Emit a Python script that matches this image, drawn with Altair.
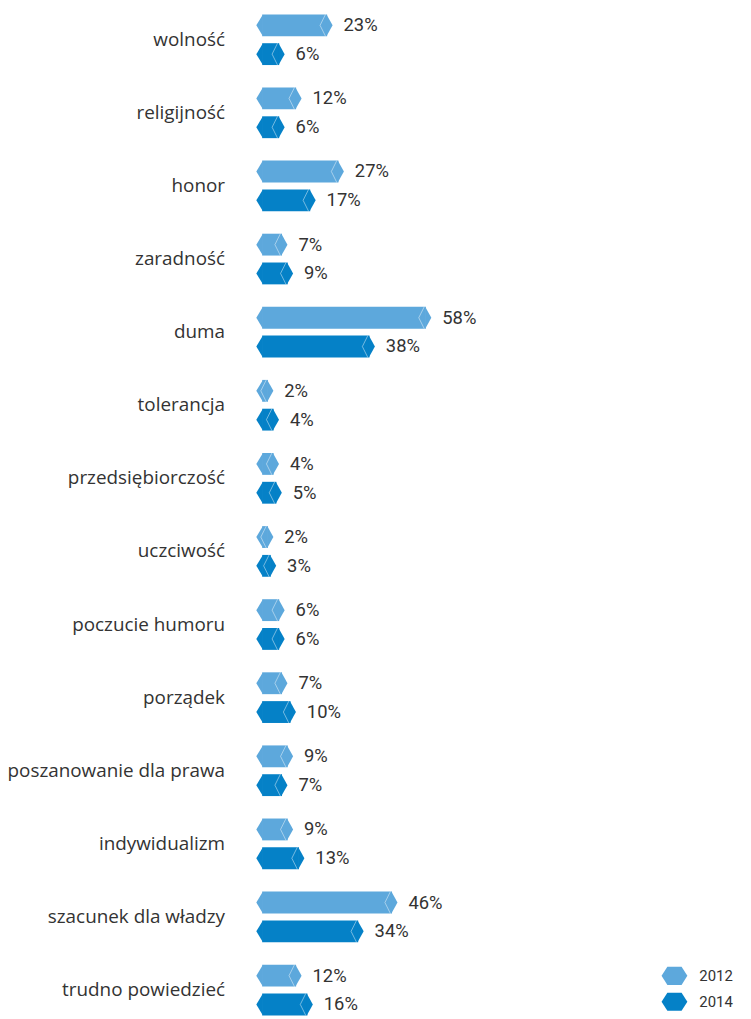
import altair as alt
import pandas as pd

categories = ["wolność", "religijność", "honor", "zaradność", "duma", "tolerancja",
              "przedsiębiorczość", "uczciwość", "poczucie humoru", "porządek",
              "poszanowanie dla prawa", "indywidualizm", "szacunek dla władzy",
              "trudno powiedzieć"]
years = ["2012", "2014"]
values_2012 = [23, 12, 27, 7, 58, 2, 4, 2, 6, 7, 9, 9, 46, 12]
values_2014 = [6, 6, 17, 9, 38, 4, 5, 3, 6, 10, 7, 13, 34, 16]
colors = ["#5DA8DC", "#0581C7"]

rows = []
for c, a, b in zip(categories, values_2012, values_2014):
    for yr, v in zip(years, (a, b)):
        rows.append({"cat": c, "year": yr, "value": v, "zero": 0, "label": f"{v}%"})
df = pd.DataFrame(rows)

HEX = "M-1,0L-0.55,-0.7L0.55,-0.7L1,0L0.55,0.7L-0.55,0.7Z"
LEFT_CAP = "M0.06,-1L-0.545,0L0.06,1Z"
RIGHT_CAP = "M-0.06,-1L0.5,0L-0.06,1Z"
CHEVRON = "M-0.15,-1L-0.65,0L-0.15,1"

xscale = alt.Scale(domain=[0, 100], nice=False, zero=True)
x = alt.X("value:Q", scale=xscale, axis=None)
x0 = alt.X("zero:Q", scale=xscale, axis=None)
y = alt.Y("cat:N", sort=categories,
          scale=alt.Scale(paddingInner=0.307, paddingOuter=0, round=False),
          axis=alt.Axis(title=None, ticks=False, domain=False, grid=False,
                        labelPadding=38, labelFontSize=19, labelColor="#333333",
                        labelFont="Open Sans", labelLimit=400))
color = alt.Color("year:N", scale=alt.Scale(domain=years, range=colors),
                  legend=alt.Legend(title=None, orient="none", legendX=402, legendY=955,
                                    symbolType=HEX, symbolSize=676, symbolStrokeWidth=0,
                                    labelFontSize=15, labelFont="Roboto",
                                    labelColor="#333333", labelOffset=12, rowPadding=3))

offsets = {"2012": -14.5, "2014": 14.5}
layers = []
for yr in years:
    off = offsets[yr]
    base = alt.Chart(df).transform_filter(alt.datum.year == yr)
    layers.append(base.mark_bar(height=22, yOffset=off).encode(
        x=x, x2=alt.X2("zero"), y=y, color=color))
    layers.append(base.mark_point(shape=LEFT_CAP, size=484, filled=True, opacity=1,
                                  strokeWidth=0, yOffset=off).encode(
        x=x0, y=y, color=color))
    layers.append(base.mark_point(shape=RIGHT_CAP, size=484, filled=True, opacity=1,
                                  strokeWidth=0, yOffset=off).encode(
        x=x, y=y, color=color))
    layers.append(base.mark_point(shape=CHEVRON, size=484, filled=False, stroke="white",
                                  strokeOpacity=0.45, strokeWidth=1, opacity=1,
                                  yOffset=off).encode(x=x, y=y))
    layers.append(base.mark_text(align="left", baseline="middle", dx=16.5, fontSize=18.5,
                                 font="Roboto", color="#333333", yOffset=off).encode(
        x=x, y=y, text="label:N"))

chart = alt.layer(*layers).properties(
    width=284, height=1007.8,
    padding={"left": 256, "top": 3, "right": 200, "bottom": 0},
    autosize="none",
).configure_view(strokeWidth=0)

chart.save("out.html", embed_options={"renderer": "svg", "actions": False})
